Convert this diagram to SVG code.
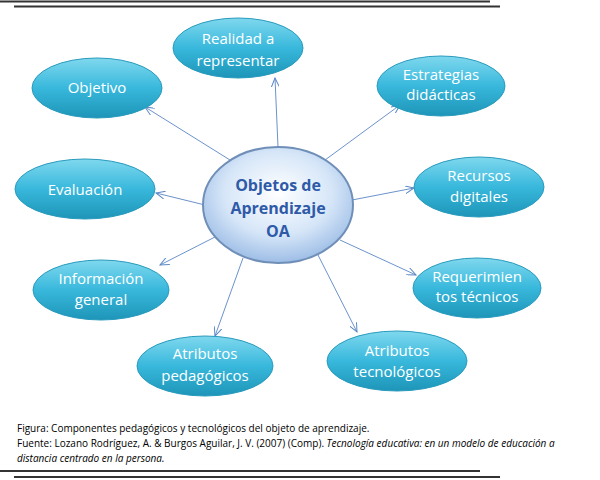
<svg xmlns="http://www.w3.org/2000/svg" width="600" height="480" viewBox="0 0 600 480">
<defs>
<linearGradient id="g" x1="0" y1="0" x2="0" y2="1"><stop offset="0" stop-color="#7fd8ee"/><stop offset="0.5" stop-color="#38b8dc"/><stop offset="1" stop-color="#1d95b8"/></linearGradient>
<radialGradient id="c" cx="0.5" cy="0.4" r="0.6"><stop offset="0" stop-color="#ffffff"/><stop offset="0.6" stop-color="#d6e6f8"/><stop offset="1" stop-color="#9dbde6"/></radialGradient>
<marker id="a" markerWidth="10" markerHeight="8" refX="9" refY="4" orient="auto" markerUnits="userSpaceOnUse"><path d="M0,0 L9,4 L0,8" fill="none" stroke="#5b87c5" stroke-width="1"/></marker>
</defs>
<style>
.n{fill:url(#g);stroke:#2a9bbd;stroke-width:1}
.t{font-family:"Open Sans","Liberation Sans",sans-serif;font-size:15px;fill:#fff;text-anchor:middle}
.l{stroke:#6b93cc;stroke-width:1;fill:none;marker-end:url(#a)}
.f{font-family:"Open Sans","Liberation Sans",sans-serif;font-size:10px;fill:#000}
.r{stroke:#333;stroke-width:2}
</style>
<rect width="600" height="480" fill="#fff"/>
<line class="r" x1="0" y1="1.5" x2="490" y2="1.5"/><line class="r" x1="14" y1="6.5" x2="500" y2="6.5"/>
<line class="r" x1="0" y1="471" x2="480" y2="471"/><line class="r" x1="14" y1="477" x2="500" y2="477"/>
<g id="connectors">
<line class="l" x1="278" y1="147" x2="275" y2="78"/>
<line class="l" x1="230" y1="160" x2="145" y2="107"/>
<line class="l" x1="325" y1="160" x2="400" y2="105"/>
<line class="l" x1="205" y1="205" x2="156" y2="193"/>
<line class="l" x1="352" y1="200" x2="414" y2="188"/>
<line class="l" x1="215" y1="237" x2="160" y2="265"/>
<line class="l" x1="340" y1="240" x2="416" y2="275"/>
<line class="l" x1="243" y1="258" x2="215" y2="336"/>
<line class="l" x1="318" y1="255" x2="357" y2="332"/>
</g>
<g id="center"><ellipse cx="278" cy="205" rx="75" ry="58" fill="url(#c)" stroke="#6f8fb8" stroke-width="2"/>
<text x="278" y="191" text-anchor="middle" font-family="'Open Sans','Liberation Sans',sans-serif" font-size="16" font-weight="bold" fill="#2e5aa8">Objetos de</text>
<text x="278" y="214" text-anchor="middle" font-family="'Open Sans','Liberation Sans',sans-serif" font-size="16" font-weight="bold" fill="#2e5aa8">Aprendizaje</text>
<text x="278" y="237" text-anchor="middle" font-family="'Open Sans','Liberation Sans',sans-serif" font-size="16" font-weight="bold" fill="#2e5aa8">OA</text></g>
<g id="realidad"><ellipse class="n" cx="238" cy="48" rx="65" ry="30"/><text class="t" x="238" y="44">Realidad a</text><text class="t" x="238" y="66">representar</text></g>
<g id="objetivo"><ellipse class="n" cx="97" cy="88" rx="65" ry="30"/><text class="t" x="97" y="93">Objetivo</text></g>
<g id="estrategias"><ellipse class="n" cx="441" cy="86" rx="64" ry="30"/><text class="t" x="441" y="80">Estrategias</text><text class="t" x="441" y="100">didácticas</text></g>
<g id="evaluacion"><ellipse class="n" cx="85" cy="189" rx="70" ry="30"/><text class="t" x="85" y="195">Evaluación</text></g>
<g id="recursos"><ellipse class="n" cx="479" cy="187" rx="65" ry="30"/><text class="t" x="479" y="181">Recursos</text><text class="t" x="479" y="202">digitales</text></g>
<g id="informacion"><ellipse class="n" cx="101" cy="290" rx="68" ry="30"/><text class="t" x="101" y="284">Información</text><text class="t" x="101" y="305">general</text></g>
<g id="requerimientos"><ellipse class="n" cx="477" cy="288" rx="64" ry="30"/><text class="t" x="477" y="282">Requerimien</text><text class="t" x="477" y="302">tos técnicos</text></g>
<g id="pedagogicos"><ellipse class="n" cx="205" cy="366" rx="68" ry="30"/><text class="t" x="205" y="359">Atributos</text><text class="t" x="205" y="381">pedagógicos</text></g>
<g id="tecnologicos"><ellipse class="n" cx="397" cy="361" rx="70" ry="30"/><text class="t" x="397" y="356">Atributos</text><text class="t" x="397" y="377">tecnológicos</text></g>
<text class="f" x="17" y="432">Figura: Componentes pedagógicos y tecnológicos del objeto de aprendizaje.</text>
<text class="f" x="17" y="447">Fuente: Lozano Rodríguez, A. &amp; Burgos Aguilar,  J. V. (2007) (Comp). <tspan font-style="italic">Tecnología educativa: en un modelo de educación a</tspan></text>
<text class="f" x="17" y="462" font-style="italic">distancia centrado en la persona.</text>
</svg>
